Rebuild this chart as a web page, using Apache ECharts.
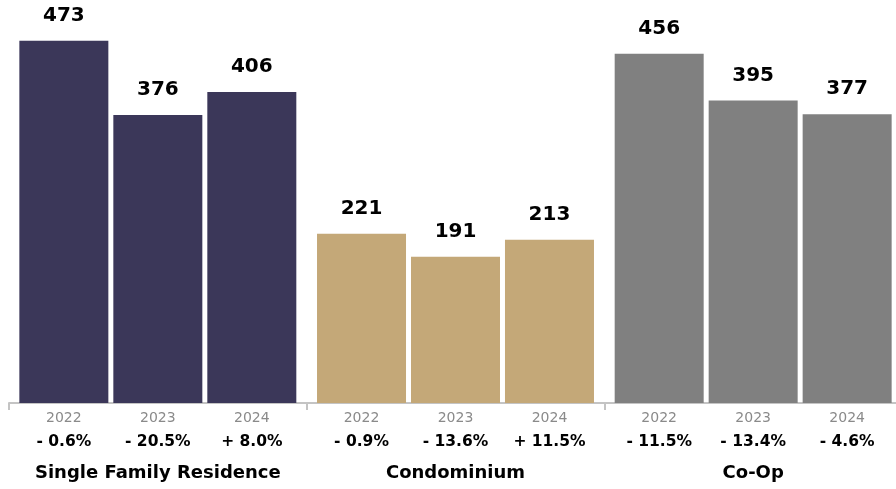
<!DOCTYPE html>
<html>
<head>
<meta charset="utf-8">
<script src="https://cdn.jsdelivr.net/npm/echarts@6/dist/echarts.min.js"></script>
<style>
  html, body { margin: 0; padding: 0; background: #fff; }
  #chart { width: 896px; height: 489px; }
</style>
</head>
<body>
<div id="chart"></div>
<script>
// Property types and sale counts by year
const groups = ['Single Family Residence', 'Condominium', 'Co-Op'];
const years = ['2022', '2023', '2024'];
const sales2022 = [473, 221, 456];
const sales2023 = [376, 191, 395];
const sales2024 = [406, 213, 377];
// Year-over-year change, per group, per year
const change2022 = ['- 0.6%', '- 0.9%', '- 11.5%'];
const change2023 = ['- 20.5%', '- 13.6%', '- 13.4%'];
const change2024 = ['+ 8.0%', '+ 11.5%', '- 4.6%'];
const groupColors = ['#3b3759', '#c4a878', '#808080'];

const salesByYear = [sales2022, sales2023, sales2024];
const changeByYear = [change2022, change2023, change2024];
const FONT = 'DejaVu Sans';

const valueSeries = years.map((y, yi) => ({
  name: y,
  type: 'bar',
  xAxisIndex: 0,
  barWidth: 89,
  barGap: '5.6%',
  silent: true,
  data: salesByYear[yi].map((v, gi) => ({ value: v, itemStyle: { color: groupColors[gi] } })),
  label: {
    show: true,
    position: 'top',
    distance: 15,
    fontFamily: FONT,
    fontWeight: 'bold',
    fontSize: 20,
    lineHeight: 20,
    color: '#000'
  }
}));

// Year and change captions under each bar, sharing the bar layout on a hidden axis
const captionSeries = years.map((y, yi) => ({
  name: y + ' caption',
  type: 'bar',
  xAxisIndex: 1,
  barWidth: 89,
  barGap: '5.6%',
  silent: true,
  itemStyle: { color: 'rgba(0,0,0,0)' },
  data: salesByYear[yi],
  label: {
    show: true,
    position: ['50%', '100%'],
    align: 'center',
    verticalAlign: 'top',
    offset: [0, 3],
    formatter: (p) => '{y|' + y + '}\n{c|' + changeByYear[yi][p.dataIndex] + '}',
    rich: {
      y: { fontFamily: FONT, fontSize: 14, lineHeight: 24, color: '#8a8a8a', align: 'center' },
      c: { fontFamily: FONT, fontSize: 15.5, fontWeight: 'bold', lineHeight: 24, color: '#000', align: 'center' }
    }
  }
}));

const chart = echarts.init(document.getElementById('chart'), null, { renderer: 'canvas' });
chart.setOption({
  animation: false,
  grid: { left: 9, right: -6, top: 20, bottom: 86, containLabel: false, outerBoundsMode: 'none' },
  xAxis: [
    {
      type: 'category',
      data: groups,
      axisLine: { show: true, lineStyle: { color: '#c4c4c4', width: 2 } },
      axisTick: { show: true, length: 7, lineStyle: { color: '#c4c4c4', width: 2 } },
      axisLabel: {
        interval: 0,
        margin: 59,
        fontFamily: FONT,
        fontWeight: 'bold',
        fontSize: 18,
        lineHeight: 22,
        color: '#000'
      }
    },
    {
      type: 'category',
      data: groups,
      show: false
    }
  ],
  yAxis: {
    type: 'value',
    min: 0,
    max: 500,
    show: false,
    splitLine: { show: false }
  },
  series: valueSeries.concat(captionSeries)
});
</script>
</body>
</html>
